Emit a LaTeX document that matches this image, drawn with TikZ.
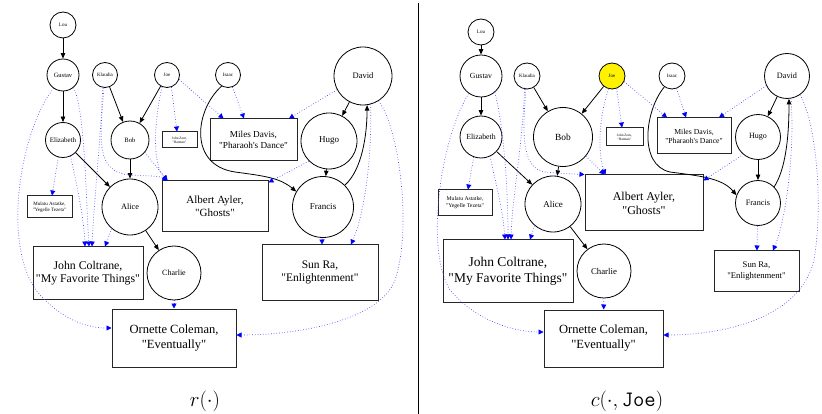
\documentclass[tikz,border=0pt]{standalone}
\usepackage{fontspec}
\newfontfamily\gv{Liberation Serif}
\usetikzlibrary{arrows.meta}
\newcommand{\fz}[2]{\gv\fontsize{#1}{#2}\selectfont}
\tikzset{
  cn/.style={circle, draw, line width=0.8pt, inner sep=0pt, minimum size=#1},
  bx/.style={rectangle, draw=black!85, line width=1pt, align=center, inner sep=0pt},
  dep/.style={line width=0.8pt, -{Triangle[length=5.5pt,width=4.5pt]}},
  inf/.style={draw=blue!70, dotted, line width=0.7pt, -{Triangle[length=5pt,width=5pt,color=blue,fill=blue]}},
  lbl/.style={inner sep=0pt, font=\fontsize{22}{24}\selectfont}
}
\begin{document}
\begin{tikzpicture}[x=1pt,y=-1pt]
\useasboundingbox (0,0) rectangle (822,414);
% ================= LEFT =================
\node[cn=26pt, font=\fz{5}{6}] (Llou) at (63,25) {Lou};
\node[cn=32pt, font=\fz{6.5}{7}] (Lgus) at (63,75) {Gustav};
\node[cn=25pt, font=\fz{5}{6}] (Lkla) at (105,75) {Klaudia};
\node[cn=25pt, font=\fz{5}{6}] (Ljoe) at (167,75) {Joe};
\node[cn=25pt, font=\fz{5}{6}] (Lisa) at (228,75) {Isaac};
\node[cn=58pt, font=\fz{8.5}{9}] (Ldav) at (363,76) {David};
\node[cn=35pt, font=\fz{7}{8}] (Leli) at (63,140) {Elizabeth};
\node[cn=38pt, font=\fz{6.6}{7}] (Lbob) at (130,140) {Bob};
\node[cn=56pt, font=\fz{9}{10}] (Lhug) at (329,141) {Hugo};
\node[cn=56pt, font=\fz{8.3}{9}] (Lali) at (130,207) {Alice};
\node[cn=61pt, font=\fz{9}{10}] (Lfra) at (323,207) {Francis};
\node[cn=54pt, font=\fz{8}{9}] (Lcha) at (174,273) {Charlie};

\node[bx, minimum width=35pt, minimum height=16pt, font=\fz{3.5}{4}] (Lzorn) at (179.5,140) {John Zorn,\\"Batman"};
\node[bx, minimum width=87pt, minimum height=42pt, font=\fz{9.2}{10.6}] (Lmiles) at (253.5,140) {Miles Davis,\\"Pharaoh's Dance"};
\node[bx, minimum width=45pt, minimum height=22pt, font=\fz{5}{6}] (Lmul) at (49.5,207) {Mulatu Astatke,\\"Yegelle Tezeta"};
\node[bx, minimum width=106pt, minimum height=51pt, font=\fz{11}{13}] (Lalb) at (215,206.5) {Albert Ayler,\\"Ghosts"};
\node[bx, minimum width=110pt, minimum height=52pt, font=\fz{11.8}{13.5}] (Ljc) at (88,273) {John Coltrane,\\"My Favorite Things"};
\node[bx, minimum width=116pt, minimum height=55pt, font=\fz{11.5}{13.5}] (Lsun) at (320,272.5) {Sun Ra,\\"Enlightenment"};
\node[bx, minimum width=124pt, minimum height=58pt, font=\fz{12.5}{15}] (Lorn) at (174,338) {Ornette Coleman,\\"Eventually"};

% dependencies
\draw[dep] (Llou) -- (Lgus);
\draw[dep] (Lgus) -- (Leli);
\draw[dep] (Lkla) -- (Lbob);
\draw[dep] (Ljoe) -- (Lbob);
\draw[dep] (Lbob) -- (Lali);
\draw[dep] (Leli) -- (Lali);
\draw[dep] (Lali) -- (Lcha);
\draw[dep] (Ldav) -- (Lhug);
\draw[dep] (Lhug) -- (Lfra);
\draw[dep] (Lfra.45) .. controls (362,170) and (367,135) .. (Ldav.-82);
\draw[dep] (Lisa.-120) .. controls (195,110) and (188,165) .. (235,172) .. controls (265,176) and (280,178) .. (Lfra.150);

% influences
\draw[inf] (Lgus.-50) .. controls (85,110) and (86,200) .. ([xshift=1pt]Ljc.north);
\draw[inf] (Lgus.-125) .. controls (20,130) and (0,250) .. (40,295) .. controls (65,322) and (90,328) .. ([yshift=10pt]Lorn.west);
\draw[inf] (Leli.-105) -- ([xshift=2.5pt]Lmul.north);
\draw[inf] (Leli.-65) .. controls (78,190) and (84,220) .. ([xshift=-3pt]Ljc.north);
\draw[inf] (Lkla.-100) .. controls (100,150) and (94,200) .. ([xshift=4pt]Ljc.north);
\draw[inf] (Lkla.-95) .. controls (100,140) and (95,172) .. (130,175) .. controls (150,176) and (160,176) .. ([xshift=6pt]Lalb.north west);
\draw[inf] (Ljoe.-112) .. controls (154,120) and (152,165) .. ([xshift=6pt]Lalb.north west);
\draw[inf] (Ljoe.-70) -- ([xshift=-2.5pt]Lzorn.north);
\draw[inf] (Ljoe.-20) -- ([xshift=-30pt]Lmiles.north);
\draw[inf] (Lbob.-40) -- ([xshift=6pt]Lalb.north west);
\draw[inf] (Lali.-130) -- ([xshift=17pt]Ljc.north);
\draw[inf] (Lcha) -- (Lorn);
\draw[inf] (Lisa.-70) -- ([xshift=-9.5pt]Lmiles.north);
\draw[inf] (Ldav.-152) -- ([xshift=35.5pt]Lmiles.north);
\draw[inf] (Lhug.-135) -- ([yshift=-2pt]Lalb.north east);
\draw[inf] (Lfra.-92) -- ([xshift=2pt]Lsun.north);
\draw[inf] (Ldav.-75) .. controls (372,150) and (366,210) .. ([xshift=31pt]Lsun.north);
\draw[inf] (Ldav.-58) .. controls (400,130) and (412,230) .. (395,280) .. controls (380,320) and (300,335) .. ([yshift=3pt]Lorn.east);

\node[lbl] (Llab) at (205,401) {$r(\cdot)$};

% separator
\draw[line width=0.8pt] (418,3) -- (418,414);

% ================= RIGHT =================
\node[cn=26pt, font=\fz{5}{6}] (Rlou) at (481,32) {Lou};
\node[cn=42pt, font=\fz{7.8}{8.5}] (Rgus) at (481,76) {Gustav};
\node[cn=26pt, font=\fz{5}{6}] (Rkla) at (527,76) {Klaudia};
\node[cn=26pt, fill=yellow, font=\fz{5}{6}] (Rjoe) at (612,76) {Joe};
\node[cn=26pt, font=\fz{5}{6}] (Risa) at (672,76) {Isaac};
\node[cn=45pt, font=\fz{8.2}{9}] (Rdav) at (787,76) {David};
\node[cn=42pt, font=\fz{7.8}{8.5}] (Reli) at (481,137) {Elizabeth};
\node[cn=59pt, font=\fz{9.4}{10}] (Rbob) at (563,137) {Bob};
\node[cn=45pt, font=\fz{8}{9}] (Rhug) at (758,137) {Hugo};
\node[cn=56pt, font=\fz{9}{10}] (Rali) at (553,204) {Alice};
\node[cn=45pt, font=\fz{8.2}{9}] (Rfra) at (758,203) {Francis};
\node[cn=54pt, font=\fz{8.8}{9.5}] (Rcha) at (604,271) {Charlie};

\node[bx, minimum width=37pt, minimum height=18pt, font=\fz{3.5}{4}] (Rzorn) at (624.5,137) {John Zorn,\\"Batman"};
\node[bx, minimum width=74pt, minimum height=36pt, font=\fz{7.7}{9}] (Rmiles) at (694,136) {Miles Davis,\\"Pharaoh's Dance"};
\node[bx, minimum width=54pt, minimum height=26pt, font=\fz{5.7}{7}] (Rmul) at (465,203) {Mulatu Astatke,\\"Yegelle Tezeta"};
\node[bx, minimum width=118pt, minimum height=56pt, font=\fz{12}{14}] (Ralb) at (644,203) {Albert Ayler,\\"Ghosts"};
\node[bx, minimum width=130pt, minimum height=62pt, font=\fz{13.5}{16}] (Rjc) at (508,271) {John Coltrane,\\"My Favorite Things"};
\node[bx, minimum width=85pt, minimum height=40pt, font=\fz{8.7}{11}] (Rsun) at (756.5,271) {Sun Ra,\\"Enlightenment"};
\node[bx, minimum width=119pt, minimum height=57pt, font=\fz{12.5}{15}] (Rorn) at (603.5,338.5) {Ornette Coleman,\\"Eventually"};

\draw[dep] (Rlou) -- (Rgus);
\draw[dep] (Rgus) -- (Reli);
\draw[dep] (Rkla) -- (Rbob);
\draw[dep] (Rjoe) -- (Rbob);
\draw[dep] (Rbob) -- (Rali);
\draw[dep] (Reli) -- (Rali);
\draw[dep] (Rali) -- (Rcha);
\draw[dep] (Rdav) -- (Rhug);
\draw[dep] (Rhug) -- (Rfra);
\draw[dep] (Rfra.45) .. controls (785,170) and (789,140) .. (Rdav.-85);
\draw[dep] (Risa.-125) .. controls (645,110) and (638,165) .. (670,172) .. controls (700,176) and (722,178) .. (Rfra.160);

\draw[inf] (Rgus.-50) .. controls (505,130) and (508,200) .. ([xshift=0pt]Rjc.north);
\draw[inf] (Rgus.-125) .. controls (440,140) and (425,250) .. (450,290) .. controls (480,325) and (520,332) .. ([yshift=6.5pt]Rorn.west);
\draw[inf] (Reli.-110) -- ([xshift=3pt]Rmul.north);
\draw[inf] (Reli.-65) .. controls (495,180) and (503,210) .. ([xshift=-3pt]Rjc.north);
\draw[inf] (Rkla.-100) .. controls (522,150) and (512,200) .. ([xshift=3pt]Rjc.north);
\draw[inf] (Rkla.-95) .. controls (523,130) and (520,168) .. (545,172) .. controls (565,174) and (575,174) .. (Ralb.north west);
\draw[inf] (Rjoe.-105) .. controls (598,120) and (598,155) .. ([xshift=21pt]Ralb.north west);
\draw[inf] (Rjoe.-70) -- ([xshift=-2.5pt]Rzorn.north);
\draw[inf] (Rjoe.-25) -- ([xshift=-27pt]Rmiles.north);
\draw[inf] (Rbob.-40) -- ([xshift=20pt]Ralb.north west);
\draw[inf] (Rali.-130) -- ([xshift=22pt]Rjc.north);
\draw[inf] (Rcha) -- (Rorn);
\draw[inf] (Risa.-70) -- ([xshift=-8pt]Rmiles.north);
\draw[inf] (Rdav.-155) -- ([xshift=25pt]Rmiles.north);
\draw[inf] (Rhug.-130) -- ([yshift=-6pt]Ralb.north east);
\draw[inf] (Rfra) -- (Rsun);
\draw[inf] (Rdav.-80) .. controls (795,150) and (786,220) .. ([xshift=16.5pt]Rsun.north);
\draw[inf] (Rdav.-55) .. controls (815,120) and (824,200) .. (814,260) .. controls (800,320) and (720,335) .. ([yshift=3.5pt]Rorn.east);

\node[lbl] (Rlab) at (627,401) {$c(\cdot,\texttt{Joe})$};
\end{tikzpicture}
\end{document}
